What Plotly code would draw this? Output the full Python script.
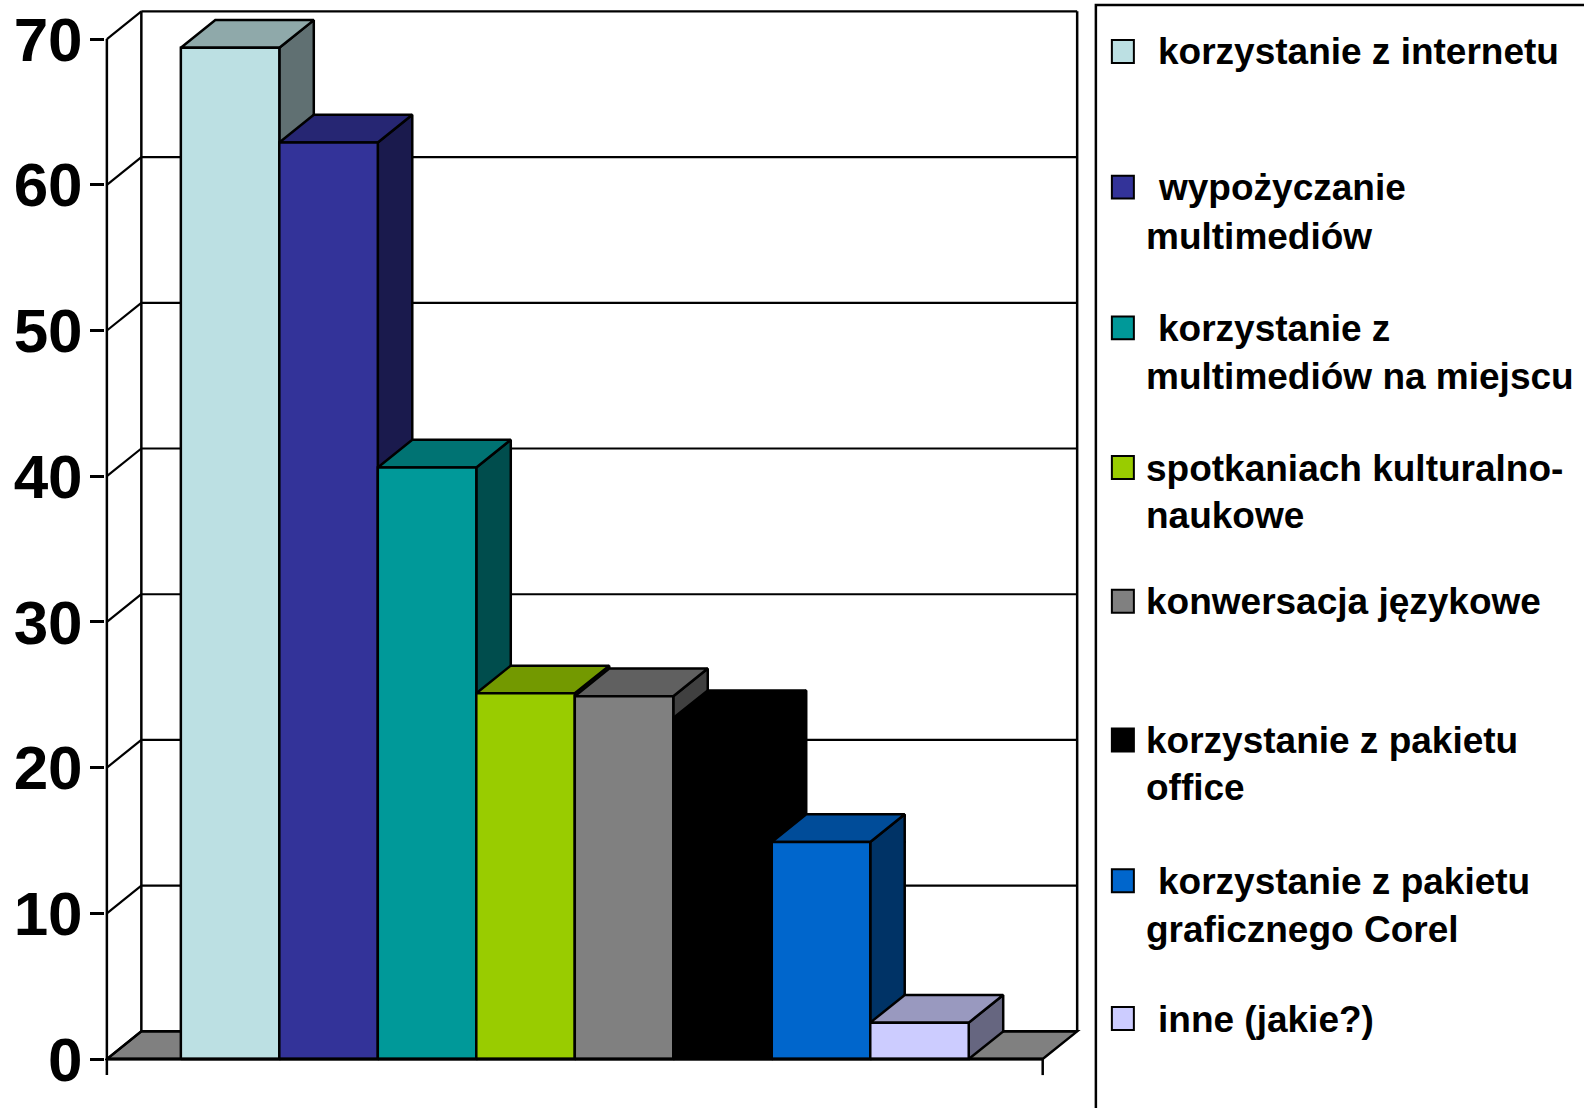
import plotly.graph_objects as go

# ---------------- data ----------------
categories = [
    "korzystanie z internetu",
    "wypożyczanie multimediów",
    "korzystanie z multimediów na miejscu",
    "spotkaniach kulturalno-naukowe",
    "konwersacja językowe",
    "korzystanie z pakietu office",
    "korzystanie z pakietu graficznego Corel",
    "inne (jakie?)",
]
values = [69.4, 62.9, 40.6, 25.1, 24.9, 23.4, 14.9, 2.5]
front_colors = ["#BCE0E3", "#333399", "#009999", "#99CC00", "#808080", "#000000", "#0066CC", "#CCCCFF"]
top_colors = ["#8FA9AA", "#262673", "#007373", "#739900", "#606060", "#000000", "#004C99", "#9999BF"]
side_colors = ["#607072", "#1A1A4D", "#004D4D", "#4D6600", "#404040", "#000000", "#003366", "#666680"]
legend_lines = [
    [" korzystanie z internetu"],
    [" wypożyczanie", "multimediów"],
    [" korzystanie z", "multimediów na miejscu"],
    ["spotkaniach kulturalno-", "naukowe"],
    ["konwersacja językowe"],
    ["korzystanie z pakietu", "office"],
    [" korzystanie z pakietu", "graficznego Corel"],
    [" inne (jakie?)"],
]
y_ticks = [0, 10, 20, 30, 40, 50, 60, 70]

# ---------------- geometry (axis units) ----------------
DX = 0.35      # depth offset along x (units of category)
DY = 1.9       # depth offset along y (value units)
X_FRONT_L = -1.251
X_FRONT_R = len(values) - 1 + 0.5 + 0.751
Y_MAX = 70
XR = [-1.27, 8.65]
YR = [-1.3, 72.2]

W, H = 1584, 1108
ML, MT = 105, 5
PW = (XR[1] - XR[0]) * 98.5
PH = (YR[1] - YR[0]) * 14.6
MR = W - ML - PW
MB = H - MT - PH

FONT = "Liberation Sans, Arial, sans-serif"

fig = go.Figure()

shapes = []
# floor
floor_path = (f"M{X_FRONT_L},0 L{X_FRONT_R},0 L{X_FRONT_R + DX},{DY} "
              f"L{X_FRONT_L + DX},{DY} Z")
shapes.append(dict(type="path", path=floor_path, xref="x", yref="y", layer="below",
                   fillcolor="#808080", line=dict(color="black", width=2.5)))
# back wall grid lines and side-wall diagonals
for t in y_ticks:
    shapes.append(dict(type="line", xref="x", yref="y", layer="below",
                       x0=X_FRONT_L + DX, x1=X_FRONT_R + DX, y0=t + DY, y1=t + DY,
                       line=dict(color="black", width=2.2)))
    shapes.append(dict(type="line", xref="x", yref="y", layer="below",
                       x0=X_FRONT_L, x1=X_FRONT_L + DX, y0=t, y1=t + DY,
                       line=dict(color="black", width=2.2)))
# back wall verticals
for xv in (X_FRONT_L + DX, X_FRONT_R + DX):
    shapes.append(dict(type="line", xref="x", yref="y", layer="below",
                       x0=xv, x1=xv, y0=DY, y1=Y_MAX + DY,
                       line=dict(color="black", width=2.5)))

# bars (painted left to right: side, top, front)
for i, v in enumerate(values):
    l, r = i - 0.5, i + 0.5
    side_x = [r, r + DX, r + DX, r, r]
    side_y = [0, DY, v + DY, v, 0]
    top_x = [l, r, r + DX, l + DX, l]
    top_y = [v, v, v + DY, v + DY, v]
    front_x = [l, r, r, l, l]
    front_y = [0, 0, v, v, 0]
    for px, py, col in ((side_x, side_y, side_colors[i]),
                        (top_x, top_y, top_colors[i]),
                        (front_x, front_y, front_colors[i])):
        fig.add_trace(go.Scatter(x=px, y=py, mode="lines", fill="toself",
                                 fillcolor=col, line=dict(color="black", width=2.5),
                                 hoverinfo="skip", showlegend=False,
                                 name=categories[i]))

# front axis lines (above bars)
shapes.append(dict(type="line", xref="x", yref="y", layer="above",
                   x0=X_FRONT_L, x1=X_FRONT_L, y0=-1.1, y1=Y_MAX,
                   line=dict(color="black", width=2.5)))
shapes.append(dict(type="line", xref="x", yref="y", layer="above",
                   x0=X_FRONT_L, x1=X_FRONT_R, y0=0, y1=0,
                   line=dict(color="black", width=3)))
shapes.append(dict(type="line", xref="x", yref="y", layer="above",
                   x0=X_FRONT_R, x1=X_FRONT_R, y0=0, y1=-1.1,
                   line=dict(color="black", width=2.5)))

# ---------------- legend (drawn manually) ----------------
def pxx(p):
    return (p - ML) / PW

def pxy(p):
    return (MT + PH - p) / PH

annotations = []
shapes.append(dict(type="rect", xref="paper", yref="paper",
                   x0=pxx(1096), x1=pxx(1620), y0=pxy(3), y1=pxy(1130),
                   line=dict(color="black", width=2.5), fillcolor="rgba(0,0,0,0)"))
baselines = [[63], [199, 248], [340, 388], [480, 527], [614], [753, 800], [894, 942], [1032]]
LEG_FS = 37
for i, lines in enumerate(legend_lines):
    b0 = baselines[i][0]
    shapes.append(dict(type="rect", xref="paper", yref="paper",
                       x0=pxx(1112), x1=pxx(1134), y0=pxy(b0 - 2), y1=pxy(b0 - 25),
                       fillcolor=front_colors[i], line=dict(color="black", width=2)))
    for j, txt in enumerate(lines):
        b = baselines[i][j]
        xs = 1156 if txt.startswith(" ") else 1144
        annotations.append(dict(xref="paper", yref="paper", x=pxx(xs), y=pxy(b - 13),
                                xanchor="left", yanchor="middle", showarrow=False,
                                text=txt.strip(),
                                font=dict(family=FONT, size=LEG_FS, color="black",
                                          weight="bold")))

fig.update_layout(
    width=W, height=H,
    margin=dict(l=ML, r=MR, t=MT, b=MB, pad=0),
    paper_bgcolor="white", plot_bgcolor="white",
    showlegend=False,
    shapes=shapes, annotations=annotations,
    xaxis=dict(range=XR, visible=False, fixedrange=True),
    yaxis=dict(range=YR, tickvals=y_ticks, ticktext=[str(t) for t in y_ticks],
               ticks="outside", ticklen=14, tickwidth=2.5, tickcolor="black",
               ticklabelstandoff=-5,
               showgrid=False, zeroline=False, showline=False, fixedrange=True,
               tickfont=dict(family=FONT, size=62, color="black", weight="bold")),
)

fig.write_html("out.html", config={"displayModeBar": False},
               post_script="document.body.style.margin='0';")
